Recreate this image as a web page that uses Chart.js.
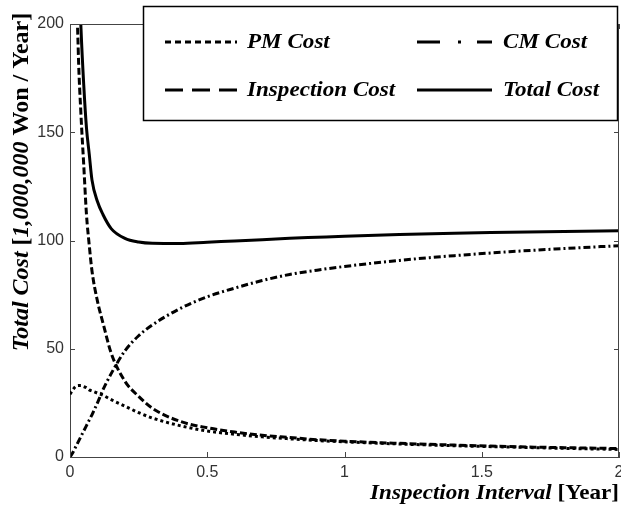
<!DOCTYPE html>
<html>
<head>
<meta charset="utf-8">
<script src="https://cdn.jsdelivr.net/npm/chart.js@4.4.1/dist/chart.umd.min.js"></script>
<style>
  html, body { margin: 0; padding: 0; background: #fff; }
  #wrap { width: 621px; height: 508px; }
</style>
</head>
<body>
<div id="wrap"><canvas id="costChart"></canvas></div>
<script>
// Inspection interval [year]
const intervals = [0, 0.01, 0.02, 0.03, 0.04, 0.05, 0.06, 0.07, 0.08, 0.1, 0.12, 0.15, 0.2, 0.25, 0.3,
  0.4, 0.5, 0.6, 0.7, 0.8, 0.9, 1.0, 1.2, 1.4, 1.6, 1.8, 2.0];

const pmCost = [29, 31, 32.5, 33, 33, 32.5, 32, 31, 30.5, 29.5, 28.5, 26.5, 23.5, 20.5, 18,
  14.5, 12, 10.5, 9.3, 8.4, 7.6, 7, 6, 5.2, 4.6, 4, 3.5];
const cmCost = [0, 2, 4.5, 7, 9.5, 12, 14.5, 17, 19.5, 25, 31, 38.5, 49, 56, 61,
  68.5, 74, 78, 81.5, 84.3, 86.3, 88, 90.8, 93, 94.8, 96.3, 97.6];
const inspectionCost = [null, 420, 250, 188, 158, 135, 112, 98, 86, 72, 62, 48, 35, 28, 22.5,
  16.5, 13.5, 11.5, 10, 9, 8, 7.3, 6.3, 5.5, 4.8, 4.3, 3.9];
const totalCost = [null, 520, 320, 235, 198, 172, 152, 140, 128, 118, 112, 105.5, 101, 99.3, 98.7,
  98.6, 99.2, 99.8, 100.4, 101, 101.5, 102, 102.8, 103.4, 103.8, 104.2, 104.5];

const xTicks = [0, 0.5, 1, 1.5, 2];
const yTicks = [0, 50, 100, 150, 200];

const pts = arr => intervals.map((x, i) => ({ x: x, y: arr[i] }));

const serif = '"Liberation Serif", "Times New Roman", serif';
const sans = '"Liberation Sans", Arial, sans-serif';

// draws text parts in a row, stretched a bit horizontally like the original
function drawParts(ctx, parts, x, y, stretch) {
  ctx.save();
  ctx.translate(x, y);
  ctx.scale(stretch, 1);
  let cx = 0;
  parts.forEach(p => { ctx.font = p[0]; ctx.fillText(p[1], cx, 0); cx += ctx.measureText(p[1]).width; });
  ctx.restore();
}
function partsWidth(ctx, parts) {
  let w = 0;
  parts.forEach(p => { ctx.font = p[0]; w += ctx.measureText(p[1]).width; });
  return w;
}

// frame, inner ticks, axis titles and legend box
const decor = {
  id: 'decor',
  afterDraw(chart) {
    const ctx = chart.ctx;
    const a = chart.chartArea;
    const xs = chart.scales.x, ys = chart.scales.y;
    ctx.save();
    ctx.strokeStyle = '#444';
    ctx.lineWidth = 1;
    ctx.setLineDash([]);
    ctx.beginPath();
    ctx.moveTo(a.left + 0.5, a.top + 0.5);
    ctx.lineTo(a.right - 0.5, a.top + 0.5);
    ctx.lineTo(a.right - 0.5, a.bottom);
    ctx.stroke();
    ctx.beginPath();
    xTicks.forEach(v => {
      const px = Math.round(xs.getPixelForValue(v)) + 0.5;
      ctx.moveTo(px, a.bottom); ctx.lineTo(px, a.bottom - 5);
      ctx.moveTo(px, a.top); ctx.lineTo(px, a.top + 5);
    });
    yTicks.forEach(v => {
      const py = Math.round(ys.getPixelForValue(v)) + 0.5;
      ctx.moveTo(a.left, py); ctx.lineTo(a.left + 5, py);
      ctx.moveTo(a.right, py); ctx.lineTo(a.right - 5, py);
    });
    ctx.stroke();

    ctx.fillStyle = '#000';
    ctx.textBaseline = 'alphabetic';
    const st = 1.1;

    // x title
    const xParts = [['italic bold 21px ' + serif, 'Inspection Interval '], ['bold 21px ' + serif, '[Year]']];
    drawParts(ctx, xParts, 619 - partsWidth(ctx, xParts) * st, 499, st);

    // y title
    const yParts = [['italic bold 24px ' + serif, 'Total Cost '], ['bold 24px ' + serif, '['],
      ['italic bold 24px ' + serif, '1,000,000'], ['bold 24px ' + serif, ' Won / Year]']];
    const yw = partsWidth(ctx, yParts);
    ctx.save();
    ctx.translate(28, 182);
    ctx.rotate(-Math.PI / 2);
    drawParts(ctx, yParts, -yw / 2, 0, 1);
    ctx.restore();

    // legend
    ctx.fillStyle = '#fff';
    ctx.fillRect(143, 6, 475, 115);
    ctx.strokeStyle = '#000';
    ctx.lineWidth = 1.5;
    ctx.strokeRect(143.5, 6.5, 474, 114);
    const cols = [[165, 237, 247], [417, 492, 503]];
    const rows = [42, 90];
    chart.data.datasets.forEach((ds, i) => {
      const c = cols[i % 2], r = rows[Math.floor(i / 2)];
      ctx.strokeStyle = '#000';
      ctx.lineWidth = 3;
      ctx.lineCap = 'butt';
      ctx.setLineDash(ds.legendDash);
      ctx.beginPath();
      ctx.moveTo(c[0], r); ctx.lineTo(c[1], r);
      ctx.stroke();
      ctx.setLineDash([]);
      ctx.fillStyle = '#000';
      ctx.textBaseline = 'middle';
      drawParts(ctx, [['italic bold 21px ' + serif, ds.label]], c[2], r + 1, st);
    });
    ctx.restore();
  }
};

new Chart(document.getElementById('costChart'), {
  type: 'line',
  data: {
    datasets: [
      { label: 'PM Cost', data: pts(pmCost), borderDash: [3, 3], legendDash: [6, 4] },
      { label: 'CM Cost', data: pts(cmCost), borderDash: [7, 3, 2, 3], legendDash: [23, 18, 3, 16] },
      { label: 'Inspection Cost', data: pts(inspectionCost), borderDash: [7, 3], legendDash: [18, 9] },
      { label: 'Total Cost', data: pts(totalCost), borderDash: [], legendDash: [] }
    ].map(d => Object.assign({
      borderColor: '#000', borderWidth: 3, pointRadius: 0,
      cubicInterpolationMode: 'monotone', fill: false
    }, d))
  },
  options: {
    responsive: true,
    maintainAspectRatio: false,
    animation: false,
    layout: { padding: { left: 0, right: 2, top: 24, bottom: 0 } },
    plugins: { legend: { display: false }, tooltip: { enabled: false } },
    scales: {
      x: {
        type: 'linear', min: 0, max: 2,
        afterBuildTicks: s => { s.ticks = xTicks.map(v => ({ value: v })); },
        afterFit: s => { s.height = 51; s.paddingLeft = 0; s.paddingRight = 0; },
        grid: { display: false, drawTicks: false },
        border: { display: true, color: '#444', width: 1 },
        ticks: { color: '#333', padding: 6, callback: v => String(v), font: { family: sans, size: 16 } }
      },
      y: {
        min: 0, max: 200,
        afterBuildTicks: s => { s.ticks = yTicks.map(v => ({ value: v })); },
        afterFit: s => { s.width = 70; s.paddingTop = 0; s.paddingBottom = 0; },
        grid: { display: false, drawTicks: false },
        border: { display: true, color: '#444', width: 1 },
        ticks: { color: '#333', padding: 6, font: { family: sans, size: 16 } }
      }
    }
  },
  plugins: [decor]
});
</script>
</body>
</html>
